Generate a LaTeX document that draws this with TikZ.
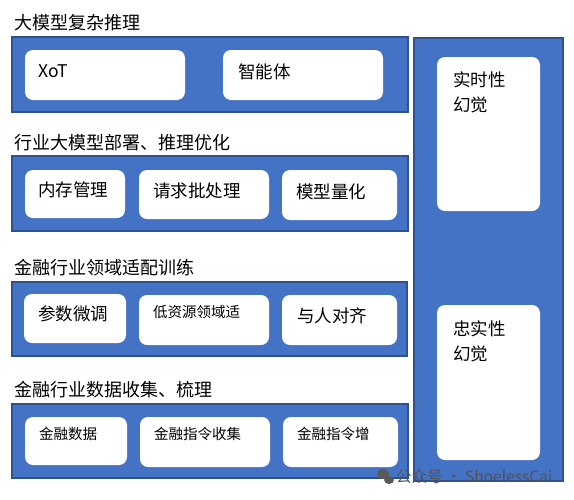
\documentclass[tikz,border=0pt]{standalone}
\usepackage{fontspec}
\setmainfont{Noto Sans CJK SC}
\definecolor{layerblue}{HTML}{4472C4}
\definecolor{layeredge}{HTML}{2F528F}

\begin{document}
\begin{tikzpicture}[x=1pt, y=-1pt]
  \tikzstyle{layer}=[draw=layeredge, line width=1.6pt, fill=layerblue]
  \tikzstyle{cell}=[fill=white, rounded corners=8pt]
  \tikzstyle{title}=[anchor=west, inner sep=0pt, font=\fontsize{18}{22}\selectfont]
  \tikzstyle{big}=[anchor=west, inner sep=0pt, font=\fontsize{17.5}{25}\selectfont]
  \tikzstyle{small}=[anchor=west, inner sep=0pt, font=\fontsize{14.5}{18}\selectfont]
  \useasboundingbox (0,0) rectangle (574,499);

  % hallucination column
  \draw[layer] (414,38) rectangle (563,481);
  \fill[cell] (437,57) rectangle (540,211);
  \fill[cell] (437,305) rectangle (540,460);
  \node[big, align=left] (realtime) at (453,92) {实时性\\幻觉};
  \node[big, align=left] (faithful) at (453,341) {忠实性\\幻觉};

  % first layer
  \node[title] (reasoning) at (14,23) {大模型复杂推理};
  \draw[layer] (12,37) rectangle (408,112);
  \fill[cell] (25,50) rectangle (185,100);
  \fill[cell] (223,50) rectangle (383,100);
  \node[big] (xot) at (38,71) {XoT};
  \node[big] (agent) at (238,72) {智能体};

  % second layer
  \node[title] (deploy) at (14,143) {行业大模型部署、推理优化};
  \draw[layer] (12,156) rectangle (408,231);
  \fill[cell] (25,170) rectangle (125,218);
  \fill[cell] (139,170) rectangle (269,219);
  \fill[cell] (282,170) rectangle (397,220);
  \node[big] (memory) at (38,190) {内存管理};
  \node[big] (batch) at (153,191) {请求批处理};
  \node[big] (quant) at (296,192) {模型量化};

  % third layer
  \node[title] (adapt) at (14,268) {金融行业领域适配训练};
  \draw[layer] (12,282) rectangle (407,356);
  \fill[cell] (24,294) rectangle (126,343);
  \fill[cell] (139,295) rectangle (269,345);
  \fill[cell] (282,295) rectangle (397,345);
  \node[big] (finetune) at (38,314) {参数微调};
  \node[small] (lowres) at (153,312) {低资源领域适};
  \node[big] (align) at (297,316) {与人对齐};

  % fourth layer
  \node[title] (collect) at (14,390) {金融行业数据收集、梳理};
  \draw[layer] (12,404) rectangle (408,478);
  \fill[cell] (25,417) rectangle (127,465);
  \fill[cell] (140,417) rectangle (270,467);
  \fill[cell] (283,417) rectangle (398,467);
  \node[small] (findata) at (39,434) {金融数据};
  \node[small] (instr) at (154,434) {金融指令收集};
  \node[small] (augment) at (297,434) {金融指令增};

  % watermark
  \fill[black!65] (383,474) ellipse (6 and 5) (389,480) ellipse (5 and 4);
  \node[anchor=west, inner sep=0pt, text=black!68,
    font=\fontsize{15.5}{18}\selectfont] (mark) at (396,477) {公众号 · ShoelessCai};
\end{tikzpicture}
\end{document}
